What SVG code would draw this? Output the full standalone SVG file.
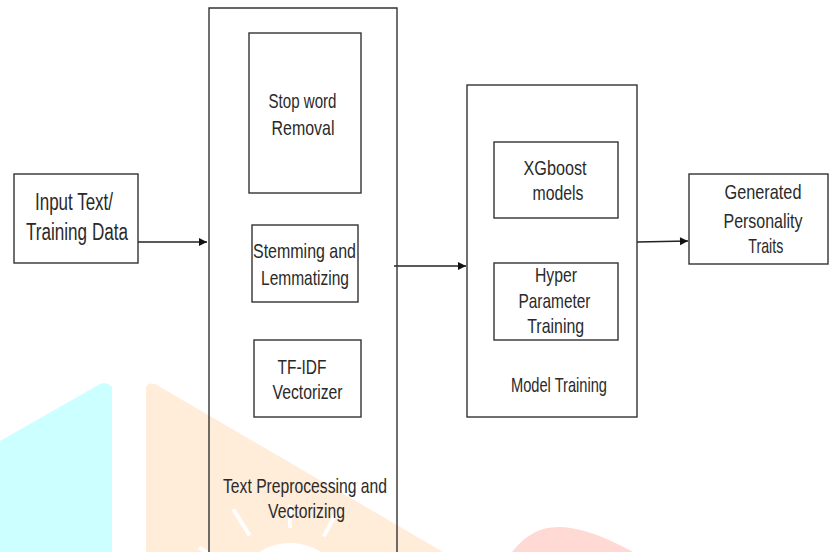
<svg xmlns="http://www.w3.org/2000/svg" width="829" height="552" viewBox="0 0 829 552">
<defs>
<style>
.bx{fill:none;stroke:#333;stroke-width:1.4}
.t{font-family:"Liberation Sans",Arial,sans-serif;font-size:21px;fill:#2a2a2a;text-anchor:middle}
.tl{font-size:23px}
.cn{stroke:#222;stroke-width:1.3;fill:none}
.ray{stroke:#fff;stroke-width:4;stroke-linecap:butt}
</style>
<marker id="ah" markerWidth="10" markerHeight="10" refX="9" refY="5" orient="auto" markerUnits="userSpaceOnUse">
<path d="M1,1 L9,5 L1,9 Z" fill="#111"/>
</marker>
</defs>
<rect width="829" height="552" fill="#fff"/>
<g id="watermark">
<path d="M0,441 L100,384 Q106,381 112,387 L112,552 L0,552 Z" fill="#ccffff"/>
<path d="M146,552 L146,388 Q147,382 155,384 L443,552 Z" fill="#ffecd9"/>
<circle cx="290" cy="600" r="57" fill="#fff"/>
<g transform="translate(290,600)">
<line class="ray" x1="0" y1="-78" x2="0" y2="-105" transform="rotate(-60)"/>
<line class="ray" x1="0" y1="-76" x2="0" y2="-107" transform="rotate(-32)"/>
<line class="ray" x1="0" y1="-72" x2="0" y2="-95" transform="rotate(0)"/>
<line class="ray" x1="0" y1="-72" x2="0" y2="-100" transform="rotate(28)"/>
</g>
<path d="M512,552 Q532,526 560,527 Q590,528 633,552 Z" fill="#ffdad4"/>
</g>
<g id="connectors">
<line class="cn" x1="138" y1="242" x2="207" y2="242" marker-end="url(#ah)"/>
<line class="cn" x1="394" y1="266" x2="466" y2="266" marker-end="url(#ah)"/>
<line class="cn" x1="637" y1="242" x2="688" y2="241" marker-end="url(#ah)"/>
</g>
<g id="input">
<rect class="bx" x="14" y="174" width="124" height="89"/>
<text class="t tl" x="74" y="210" textLength="78" lengthAdjust="spacingAndGlyphs">Input Text/</text>
<text class="t tl" x="77" y="240" textLength="102" lengthAdjust="spacingAndGlyphs">Training Data</text>
</g>
<g id="preprocessing">
<path class="bx" d="M209,560 L209,8 L397,8 L397,560"/>
<text class="t" x="305" y="493" textLength="164" lengthAdjust="spacingAndGlyphs">Text Preprocessing and</text>
<text class="t" x="306.5" y="518" textLength="77" lengthAdjust="spacingAndGlyphs">Vectorizing</text>
</g>
<g id="stopword">
<rect class="bx" x="249" y="33" width="112" height="160"/>
<text class="t" x="302.5" y="108" textLength="68" lengthAdjust="spacingAndGlyphs">Stop word</text>
<text class="t" x="303" y="135" textLength="63" lengthAdjust="spacingAndGlyphs">Removal</text>
</g>
<g id="stemming">
<rect class="bx" x="252" y="225" width="106" height="77"/>
<text class="t" x="304.5" y="258" textLength="103" lengthAdjust="spacingAndGlyphs">Stemming and</text>
<text class="t" x="305" y="285" textLength="88" lengthAdjust="spacingAndGlyphs">Lemmatizing</text>
</g>
<g id="tfidf">
<rect class="bx" x="254" y="340" width="107" height="77"/>
<text class="t" x="302" y="374" textLength="49" lengthAdjust="spacingAndGlyphs">TF-IDF</text>
<text class="t" x="307.5" y="399" textLength="70" lengthAdjust="spacingAndGlyphs">Vectorizer</text>
</g>
<g id="modeltraining">
<rect class="bx" x="467" y="85" width="170" height="332"/>
<text class="t" x="559" y="392" textLength="96" lengthAdjust="spacingAndGlyphs">Model Training</text>
</g>
<g id="xgboost">
<rect class="bx" x="494" y="142" width="124" height="76"/>
<text class="t" x="555" y="175" textLength="63" lengthAdjust="spacingAndGlyphs">XGboost</text>
<text class="t" x="558" y="200" textLength="51" lengthAdjust="spacingAndGlyphs">models</text>
</g>
<g id="hyper">
<rect class="bx" x="494" y="263" width="124" height="77"/>
<text class="t" x="556" y="282" textLength="42" lengthAdjust="spacingAndGlyphs">Hyper</text>
<text class="t" x="554.5" y="308" textLength="72" lengthAdjust="spacingAndGlyphs">Parameter</text>
<text class="t" x="555.7" y="333" textLength="57" lengthAdjust="spacingAndGlyphs">Training</text>
</g>
<g id="output">
<rect class="bx" x="689" y="174" width="139" height="90"/>
<text class="t" x="763" y="199" textLength="77" lengthAdjust="spacingAndGlyphs">Generated</text>
<text class="t" x="763" y="228" textLength="79" lengthAdjust="spacingAndGlyphs">Personality</text>
<text class="t" x="765.8" y="253" textLength="35" lengthAdjust="spacingAndGlyphs">Traits</text>
</g>
</svg>
